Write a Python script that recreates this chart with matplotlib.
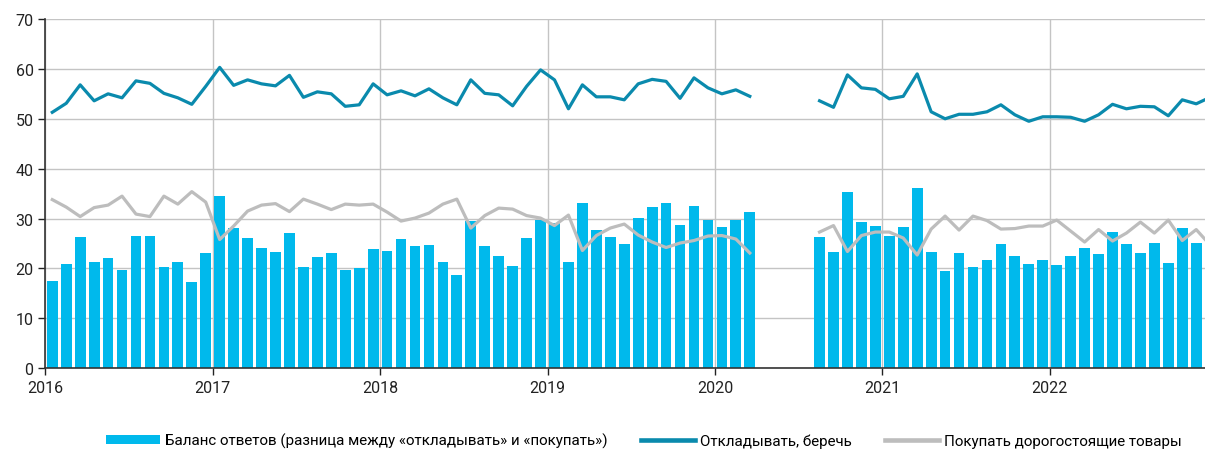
import numpy as np
import matplotlib.pyplot as plt
from matplotlib.patches import Patch
from matplotlib.lines import Line2D

plt.rcParams['font.family'] = ['Roboto', 'DejaVu Sans']

years = ['2016', '2017', '2018', '2019', '2020', '2021', '2022']
gap = [None] * 4  # апрель-июль 2020: нет данных

balance = ([17.5, 20.8, 26.4, 21.2, 22.1, 19.6, 26.5, 26.5, 20.3, 21.2, 17.3, 23.1] +
           [34.5, 28.1, 26.1, 24.1, 23.4, 27.1, 20.3, 22.4, 23.2, 19.6, 20.1, 24.0] +
           [23.6, 26.0, 24.6, 24.7, 21.2, 18.7, 29.6, 24.6, 22.6, 20.5, 26.1, 29.8] +
           [29.1, 21.3, 33.2, 27.7, 26.4, 24.9, 30.1, 32.3, 33.1, 28.7, 32.5, 29.7] +
           [28.3, 29.8, 31.3] + gap + [26.3, 23.4, 35.3, 29.4, 28.5] +
           [26.5, 28.3, 36.1, 23.3, 19.4, 23.2, 20.3, 21.8, 24.9, 22.6, 20.9, 21.7] +
           [20.6, 22.5, 24.1, 22.9, 27.3, 24.9, 23.1, 25.1, 21.0, 28.1, 25.1, 29.1])

save = ([51.3, 53.1, 56.8, 53.6, 55.0, 54.2, 57.6, 57.1, 55.1, 54.2, 52.9, 56.5] +
        [60.3, 56.7, 57.8, 57.0, 56.6, 58.7, 54.3, 55.4, 55.0, 52.5, 52.8, 57.0] +
        [54.8, 55.6, 54.6, 56.0, 54.2, 52.8, 57.8, 55.1, 54.8, 52.6, 56.5, 59.8] +
        [57.8, 52.0, 56.8, 54.4, 54.4, 53.8, 57.0, 57.9, 57.5, 54.1, 58.2, 56.2] +
        [55.0, 55.8, 54.5] + gap + [53.6, 52.3, 58.8, 56.2, 55.9] +
        [54.0, 54.5, 59.0, 51.4, 50.0, 50.9, 50.9, 51.4, 52.8, 50.8, 49.5, 50.4] +
        [50.4, 50.3, 49.5, 50.8, 52.9, 52.0, 52.5, 52.4, 50.6, 53.8, 53.0, 54.3])

buy = ([33.8, 32.3, 30.4, 32.2, 32.7, 34.5, 30.9, 30.4, 34.5, 32.9, 35.4, 33.3] +
       [25.8, 28.5, 31.5, 32.7, 33.0, 31.4, 33.9, 32.9, 31.8, 32.9, 32.7, 32.9] +
       [31.3, 29.5, 30.1, 31.1, 32.9, 33.9, 28.1, 30.6, 32.1, 31.9, 30.6, 30.1] +
       [28.6, 30.7, 23.6, 26.6, 28.1, 28.9, 26.7, 25.3, 24.2, 25.1, 25.6, 26.5] +
       [26.6, 25.9, 23.1] + gap + [27.3, 28.6, 23.4, 26.6, 27.3] +
       [27.3, 26.1, 22.7, 27.9, 30.5, 27.7, 30.5, 29.6, 27.9, 28.0, 28.5, 28.5] +
       [29.7, 27.5, 25.3, 27.8, 25.5, 27.1, 29.3, 27.1, 29.7, 25.6, 27.8, 24.7])

labels = ['Баланс ответов (разница между «откладывать» и «покупать»)',
          'Откладывать, беречь',
          'Покупать дорогостоящие товары']

c_bar = '#00B9EC'
c_save = '#0A8AAD'
c_buy = '#BDBDBD'

balance = np.array(balance, dtype=float)
save = np.array(save, dtype=float)
buy = np.array(buy, dtype=float)
x = np.arange(len(balance)) + 0.5  # середина месяца
ok = ~np.isnan(balance)

fig = plt.figure(figsize=(12.05, 4.52), dpi=100)
ax = fig.add_axes([0.0376, 0.183, 0.9624, 0.7728])

ax.bar(x[ok], balance[ok], width=0.77, color=c_bar, zorder=2)
ax.plot(x, save, color=c_save, lw=2.3, zorder=3)
ax.plot(x, buy, color=c_buy, lw=2.3, zorder=3)

ax.set_xlim(0, 83.13)
ax.set_ylim(0, 70)
ax.set_yticks(range(0, 71, 10))
ax.set_xticks(np.arange(len(years)) * 12)
ax.set_xticklabels(years)
ax.grid(True, color='#C4C4C4', lw=1, zorder=0)
ax.set_axisbelow(True)
for s in ['top', 'right']:
    ax.spines[s].set_visible(False)
for s in ['left', 'bottom']:
    ax.spines[s].set_color('#333333')
    ax.spines[s].set_linewidth(1.2)
ax.tick_params(axis='both', labelsize=11.5, colors='#222222', length=5, width=1)

handles = [Patch(facecolor=c_bar),
           Line2D([], [], color=c_save, lw=3.3),
           Line2D([], [], color=c_buy, lw=3.3)]
fig.legend(handles, labels, loc='center', bbox_to_anchor=(0.534, 0.023), ncol=3,
           frameon=False, fontsize=10.9, handlelength=3.6, handleheight=0.6,
           handletextpad=0.3, columnspacing=2.2)

fig.savefig('out.png', dpi=100)
